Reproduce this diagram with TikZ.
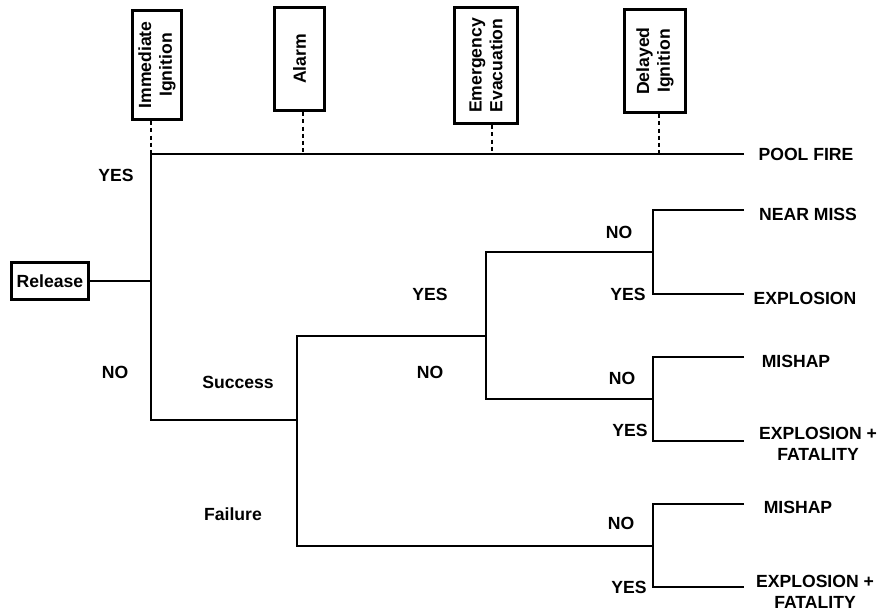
\documentclass[tikz,border=0pt]{standalone}
\usepackage{fontspec}
\setmainfont{Liberation Sans}
\usetikzlibrary{calc}

\tikzset{
  event/.style={draw, line width=2.2pt, rotate=90, align=center, inner sep=0pt},
  branch/.style={line width=1.9pt},
  link/.style={line width=1.9pt, dash pattern=on 3pt off 2.4pt},
}

\begin{document}
\begin{tikzpicture}[x=0.75pt, y=-0.75pt, font=\bfseries\fontsize{13.2}{15.5}\selectfont]
\useasboundingbox (0,0) rectangle (880,613);
% the event boxes
\node[event, minimum width=82pt, minimum height=37pt] (imm) at (157,65) {Immediate\\Ignition};
\node[event, minimum width=77.5pt, minimum height=37.75pt] (alarm) at (299.5,59) {Alarm};
\node[event, minimum width=87.25pt, minimum height=46.75pt] (evac) at (486,65.5) {Emergency\\Evacuation};
\node[event, minimum width=77.5pt, minimum height=46pt] (late) at (655,61) {Delayed\\Ignition};
\node[draw, line width=2.2pt, minimum width=58pt, minimum height=28pt, inner sep=0pt] (rel) at (50,281) {Release};
% junctions
\coordinate (ig) at (151,281);
\coordinate (igy) at (151,154);
\coordinate (ign) at (151,420);
\coordinate (al) at (297,420);
\coordinate (aly) at (297,336);
\coordinate (aln) at (297,546);
\coordinate (ev) at (486,336);
\coordinate (evy) at (486,252);
\coordinate (evn) at (486,399);
\coordinate (d1) at (653,252);
\coordinate (d1n) at (653,210);
\coordinate (d1y) at (653,294);
\coordinate (d2) at (653,399);
\coordinate (d2n) at (653,357);
\coordinate (d2y) at (653,441);
\coordinate (d3) at (653,546);
\coordinate (d3n) at (653,504);
\coordinate (d3y) at (653,587);
% ends of the branches
\coordinate (pf) at (744,154);
\coordinate (e1) at (744,210);
\coordinate (e2) at (744,294);
\coordinate (e3) at (744,357);
\coordinate (e4) at (744,441);
\coordinate (e5) at (744,504);
\coordinate (e6) at (744,587);
% where the dotted lines meet the top branch
\coordinate (pa) at (303,154);
\coordinate (pe) at (492,154);
\coordinate (pd) at (659,154);
% the tree
\draw[branch] (rel) -- (ig);
\draw[branch] (pf) -- (igy) -- (ign) -- (al);
\draw[branch] (ev) -- (aly) -- (aln) -- (d3);
\draw[branch] (d1) -- (evy) -- (evn) -- (d2);
\draw[branch] (e1) -- (d1n) -- (d1y) -- (e2);
\draw[branch] (e3) -- (d2n) -- (d2y) -- (e4);
\draw[branch] (e5) -- (d3n) -- (d3y) -- (e6);
% dotted lines
\draw[link] (imm.west -| igy) -- (igy);
\draw[link] (alarm.west -| pa) -- (pa);
\draw[link] (evac.west -| pe) -- (pe);
\draw[link] (late.west -| pd) -- (pd);
% branch labels
%     immediate ignition
\node (t1) at (116,175) {YES};
\node (t2) at (115,372) {NO};
%     alarm
\node (t3) at (238,382) {Success};
\node (t4) at (233,514) {Failure};
%     evacuation
\node (t5) at (430,294) {YES};
\node (t6) at (430,372) {NO};
%     delayed ignition
\node (t7) at (619,232) {NO};
\node (t8) at (628,294) {YES};
\node (t9) at (622,378) {NO};
\node (t10) at (630,430) {YES};
\node (t11) at (621,523) {NO};
\node (t12) at (629,587) {YES};
% outcomes
\node (o0) at (806,154) {POOL FIRE};
\node (o1) at (808,214) {NEAR MISS};
\node (o2) at (805,298) {EXPLOSION};
\node (o3) at (796,361) {MISHAP};
\node[align=center] (o4) at (818,444) {EXPLOSION +\\FATALITY};
\node (o5) at (798,507) {MISHAP};
\node[align=center] (o6) at (815,592) {EXPLOSION +\\FATALITY};
\end{tikzpicture}
\end{document}
